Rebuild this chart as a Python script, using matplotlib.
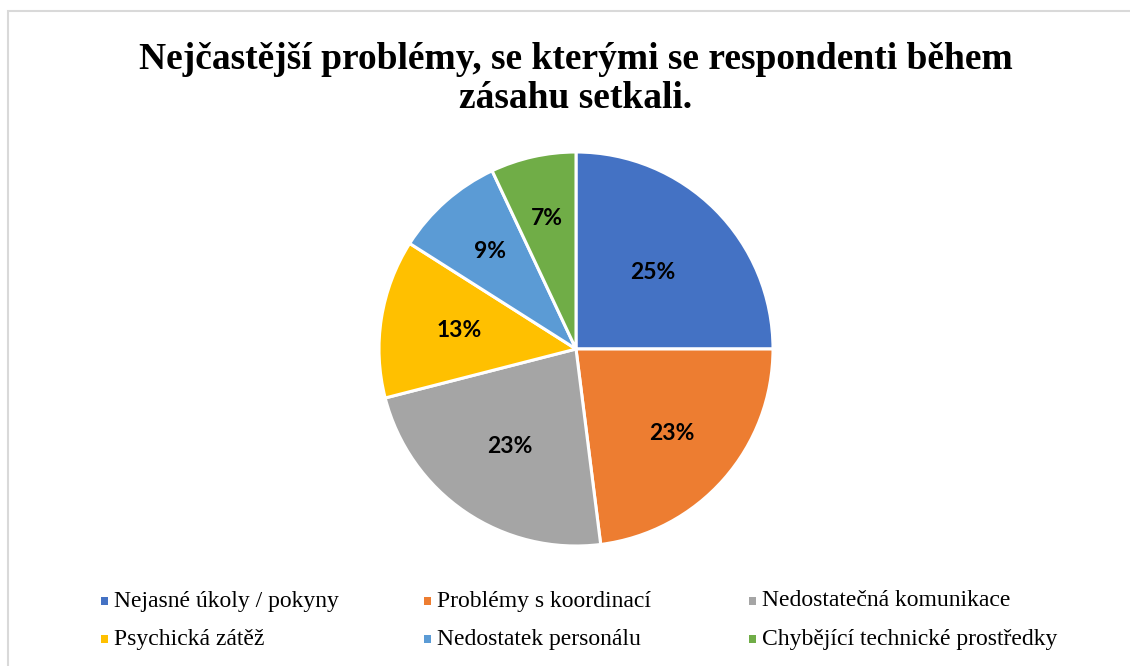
import numpy as np
import matplotlib.pyplot as plt
from matplotlib.patches import Rectangle

# chart data
categories = ['Nejasné úkoly / pokyny', 'Problémy s koordinací', 'Nedostatečná komunikace',
              'Psychická zátěž', 'Nedostatek personálu', 'Chybějící technické prostředky']
shares = [25, 23, 23, 13, 9, 7]
colors = ['#4472C4', '#ED7D31', '#A5A5A5', '#FFC000', '#5B9BD5', '#70AD47']
title = 'Nejčastější problémy, se kterými se respondenti během\nzásahu setkali.'

W, H = 1130, 666
fig = plt.figure(figsize=(W / 100, H / 100), dpi=100)

# light grey frame of the chart area (runs off the right and bottom)
fig.patches.append(Rectangle((8 / W, -0.05), 1.1, 1 - 11 / H + 0.05,
                             transform=fig.transFigure, fill=False,
                             edgecolor='#D9D9D9', linewidth=1.5))

fig.text(576 / W, 1 - 79 / H, title, ha='center', va='center',
         family='Liberation Serif', fontweight='bold', fontsize=27, linespacing=1.15)

# pie axes: centre (576, 349), radius 197 px
cx, cy, r = 576, 349, 197
ax = fig.add_axes([(cx - r) / W, (H - cy - r) / H, 2 * r / W, 2 * r / H])
wedges, _ = ax.pie(shares, colors=colors, startangle=90, counterclock=False,
                   wedgeprops=dict(edgecolor='white', linewidth=2.2))

# percentage labels, radial distance per slice roughly as in the original
label_dist = [0.55, 0.65, 0.6, 0.6, 0.66, 0.68]
for w, v, d in zip(wedges, shares, label_dist):
    ang = np.deg2rad((w.theta1 + w.theta2) / 2)
    ax.text(d * np.cos(ang), d * np.sin(ang), '%d%%' % v, ha='center', va='center',
            family='Lato', fontweight='bold', fontsize=16.5)

ax.set_xlim(-1, 1)
ax.set_ylim(-1, 1)
ax.set_aspect('equal')
ax.axis('off')

# legend drawn by hand: 3 columns x 2 rows
col_x = [104, 427, 752]
row_y = [601, 639]
for i, (lab, c) in enumerate(zip(categories, colors)):
    x = col_x[i % 3]
    y = row_y[i // 3]
    fig.patches.append(Rectangle(((x - 3.5) / W, (H - y - 4) / H), 7 / W, 8 / H,
                                 transform=fig.transFigure, facecolor=c, edgecolor='none'))
    fig.text((x + 10) / W, (H - y) / H, lab, ha='left', va='center',
             family='Liberation Serif', fontsize=17)

fig.savefig('out.png', dpi=100, facecolor='white')
